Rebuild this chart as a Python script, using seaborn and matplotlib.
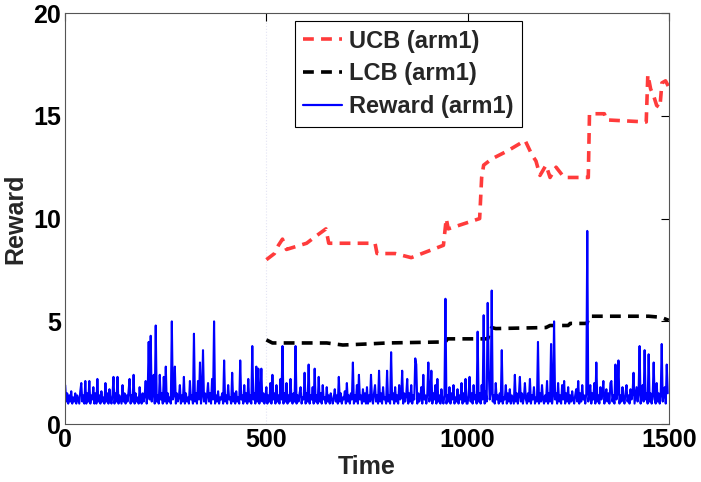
import numpy as np
import pandas as pd
import seaborn as sns
import matplotlib
matplotlib.use("Agg")
import matplotlib.pyplot as plt

# reward of arm1, one value every 2.5 time steps
reward_0_250 = [1.9, 1.1, 1.5, 1.0, 1.4, 1.1, 1.6, 1.0, 1.3, 1.1,
                1.5, 1.0, 1.4, 1.2, 1.0, 1.6, 2.0, 1.1, 1.4, 1.0,
                2.1, 1.0, 1.5, 1.1, 2.1, 1.0, 1.4, 1.2, 1.8, 1.0,
                1.5, 1.0, 2.2, 1.1, 1.4, 1.0, 1.6, 1.1, 1.3, 1.0,
                2.0, 1.1, 1.5, 1.0, 1.7, 1.2, 1.0, 1.4, 2.3, 1.0,
                1.5, 1.1, 2.3, 1.0, 1.4, 1.2, 1.0, 1.9, 1.1, 1.5,
                1.0, 1.4, 1.1, 1.6, 2.2, 1.0, 1.4, 1.1, 2.4, 1.0,
                1.5, 1.1, 1.3, 1.0, 1.8, 1.2, 1.0, 1.5, 1.1, 1.4,
                2.1, 1.0, 1.5, 4.0, 1.2, 4.3, 1.1, 1.6, 2.4, 1.0,
                4.8, 1.1, 1.4, 1.0, 2.4, 1.2, 1.5, 1.0, 2.3, 1.1]
reward_250_500 = [2.8, 1.0, 1.5, 1.1, 1.3, 1.0, 5.0, 1.2, 1.4, 2.8,
                  1.0, 1.5, 1.1, 1.3, 1.9, 1.0, 1.4, 1.1, 2.3, 1.0,
                  1.5, 1.1, 1.3, 1.0, 2.1, 1.2, 1.4, 1.0, 4.4, 1.1,
                  1.5, 1.0, 2.1, 1.2, 3.0, 1.0, 1.4, 3.6, 1.1, 1.5,
                  1.0, 1.4, 2.0, 1.1, 1.5, 1.0, 2.2, 1.2, 5.0, 1.0,
                  1.4, 1.1, 1.6, 1.0, 1.3, 1.2, 1.5, 1.0, 3.1, 1.1,
                  1.4, 1.0, 1.9, 1.2, 1.3, 1.0, 2.5, 1.1, 1.5, 1.0,
                  1.6, 1.1, 1.3, 1.0, 3.1, 1.2, 1.4, 1.0, 1.9, 1.1,
                  1.5, 1.0, 2.2, 1.1, 1.4, 1.0, 3.8, 1.2, 1.5, 1.0,
                  2.8, 1.1, 2.7, 1.0, 1.4, 2.7, 1.1, 1.5, 1.0, 1.3]
reward_500_750 = [1.8, 1.0, 1.4, 1.1, 2.0, 1.0, 2.4, 1.2, 1.5, 1.0,
                  1.9, 1.1, 1.4, 1.0, 2.2, 1.2, 3.8, 1.0, 1.5, 1.1,
                  2.0, 1.0, 1.4, 1.1, 2.2, 1.2, 1.0, 1.5, 1.1, 3.8,
                  1.0, 1.4, 1.1, 1.5, 1.8, 1.0, 1.3, 1.2, 2.5, 1.0,
                  1.5, 1.1, 2.9, 1.0, 1.4, 1.2, 1.8, 1.0, 2.7, 1.1,
                  1.4, 1.0, 2.3, 1.1, 1.5, 1.0, 1.9, 1.2, 1.3, 1.0,
                  1.8, 1.1, 1.4, 1.0, 1.5, 1.2, 1.0, 1.3, 1.7, 1.1,
                  1.4, 1.0, 2.3, 1.1, 1.5, 1.0, 1.3, 1.2, 1.6, 1.0,
                  2.0, 1.1, 1.4, 1.0, 1.5, 1.2, 3.0, 1.0, 1.4, 1.1,
                  1.9, 1.0, 2.4, 1.2, 1.4, 1.0, 1.7, 1.1, 1.5, 1.0]
reward_750_1000 = [1.8, 1.0, 1.4, 1.1, 2.4, 1.2, 1.0, 1.5, 1.9, 1.1,
                   1.4, 1.0, 2.6, 1.1, 1.5, 1.0, 1.8, 1.2, 1.3, 1.0,
                   2.6, 1.1, 1.4, 1.0, 3.5, 1.2, 1.5, 1.0, 1.8, 1.1,
                   1.4, 1.0, 1.9, 1.2, 1.3, 2.6, 1.0, 1.5, 1.1, 1.4,
                   2.2, 1.0, 1.5, 1.1, 1.9, 1.0, 1.4, 1.2, 3.2, 2.9,
                   1.0, 1.5, 1.1, 1.3, 1.8, 1.0, 2.4, 1.2, 1.4, 1.0,
                   1.5, 3.0, 1.1, 1.4, 2.6, 1.0, 1.5, 1.2, 1.9, 1.0,
                   2.2, 1.1, 1.4, 1.0, 1.7, 1.2, 1.0, 1.4, 6.1, 1.0,
                   1.4, 1.1, 1.8, 1.0, 1.5, 1.2, 1.9, 1.0, 1.3, 1.1,
                   1.7, 1.0, 1.4, 1.2, 2.0, 1.0, 1.5, 1.1, 2.2, 1.0]
reward_1000_1250 = [1.0, 1.4, 2.3, 1.1, 1.5, 1.0, 1.9, 1.2, 1.4, 1.0,
                    4.5, 1.1, 1.5, 1.0, 1.9, 1.2, 5.3, 1.0, 1.6, 1.1,
                    5.9, 2.7, 1.2, 1.5, 6.5, 1.1, 1.4, 1.0, 2.0, 1.2,
                    1.4, 1.0, 1.5, 1.1, 3.6, 1.0, 1.3, 1.2, 1.9, 1.0,
                    1.5, 1.1, 1.7, 1.0, 1.4, 1.2, 1.0, 2.4, 1.1, 1.5,
                    1.0, 1.4, 2.3, 1.1, 1.5, 1.0, 1.3, 2.0, 1.2, 1.0,
                    1.5, 1.1, 2.2, 1.0, 1.4, 1.2, 1.8, 1.0, 1.3, 1.1,
                    4.0, 1.0, 1.5, 1.1, 1.9, 1.2, 1.0, 1.4, 1.1, 2.1,
                    1.0, 1.5, 1.1, 3.9, 1.0, 1.4, 5.0, 1.2, 1.5, 1.0,
                    2.0, 1.1, 1.4, 1.0, 1.9, 1.2, 2.1, 1.0, 1.5, 1.1]
reward_1250_1500 = [1.8, 1.0, 1.4, 1.1, 1.6, 1.2, 1.0, 1.4, 1.7, 1.1,
                    2.1, 1.0, 1.5, 1.1, 1.9, 1.2, 1.4, 1.0, 1.5, 9.4,
                    1.1, 1.4, 1.9, 1.0, 1.5, 1.2, 2.0, 1.0, 3.0, 1.1,
                    1.4, 1.0, 1.8, 1.2, 1.5, 2.1, 1.0, 1.4, 1.7, 1.1,
                    1.5, 1.0, 2.0, 2.1, 1.1, 1.4, 1.0, 2.9, 1.2, 1.5,
                    3.1, 1.0, 1.4, 1.1, 1.8, 1.2, 1.0, 1.5, 1.9, 1.1,
                    1.4, 1.0, 1.7, 1.2, 1.5, 2.5, 1.0, 1.4, 1.8, 1.1,
                    1.5, 3.8, 1.0, 1.4, 1.9, 1.1, 3.6, 1.2, 1.5, 1.0,
                    3.4, 1.1, 1.5, 1.0, 1.4, 3.0, 1.2, 1.0, 2.0, 1.1,
                    1.5, 1.0, 1.4, 3.9, 1.1, 1.5, 1.8, 1.0, 2.9, 1.5]

# upper confidence bound (starts at t=500)
ucb_t = [500, 520, 530, 540, 550, 600, 620, 648, 655, 770, 775, 820, 860, 900,
         940, 947, 952, 1030, 1035, 1040, 1060, 1100, 1143, 1160, 1170, 1180,
         1195, 1205, 1220, 1240, 1300, 1303, 1340, 1345, 1444, 1448, 1455,
         1462, 1470, 1478, 1483, 1492, 1500]
ucb_v = [8.0, 8.3, 8.7, 9.0, 8.5, 8.8, 9.1, 9.5, 8.8, 8.8, 8.3, 8.3, 8.1, 8.4,
         8.7, 10.0, 9.5, 10.0, 12.0, 12.6, 12.9, 13.3, 13.8, 13.1, 12.8, 12.1,
         12.6, 12.0, 12.5, 12.0, 12.0, 15.1, 15.1, 14.8, 14.7, 17.0, 16.3,
         16.0, 15.5, 15.4, 16.6, 16.7, 16.4]

# lower confidence bound
lcb_t = [500, 515, 650, 690, 750, 800, 945, 950, 1050, 1060, 1070, 1195, 1205,
         1250, 1255, 1297, 1302, 1450, 1480, 1500]
lcb_v = [4.1, 3.95, 3.95, 3.85, 3.9, 3.95, 4.0, 4.15, 4.15, 4.7, 4.65, 4.7, 4.8,
         4.8, 4.9, 4.9, 5.25, 5.25, 5.2, 5.05]

reward = (reward_0_250 + reward_250_500 + reward_500_750 + reward_750_1000
          + reward_1000_1250 + reward_1250_1500)
assert len(reward) == 600
df_r = pd.DataFrame({"t": np.arange(len(reward)) * 2.5, "v": reward})
df_u = pd.DataFrame({"t": ucb_t, "v": ucb_v})
df_l = pd.DataFrame({"t": lcb_t, "v": lcb_v})

sns.set_style("white")
plt.rcParams["font.family"] = ["Liberation Sans", "DejaVu Sans"]
plt.rcParams["font.weight"] = "bold"

fig = plt.figure(figsize=(7.01, 4.82), dpi=100)
ax = fig.add_axes([0.093, 0.120, 0.861, 0.853])

ax.axvline(500, color="#e4e4f4", lw=0.8, ls=":", zorder=0)
sns.lineplot(data=df_u, x="t", y="v", ax=ax, color="#ff3b3b", lw=2.6,
             estimator=None, label="UCB (arm1)").lines[-1].set_dashes((3, 2))
sns.lineplot(data=df_l, x="t", y="v", ax=ax, color="black", lw=2.6,
             estimator=None, label="LCB (arm1)").lines[-1].set_dashes((3, 2))
sns.lineplot(data=df_r, x="t", y="v", ax=ax, color="#0000ff", lw=1.5,
             estimator=None, label="Reward (arm1)")

ax.set_xlim(0, 1500)
ax.set_ylim(0, 20)
ax.set_xticks([0, 500, 1000, 1500])
ax.set_yticks([0, 5, 10, 15, 20])
ax.set_xlabel("Time", fontsize=18, fontweight="bold", labelpad=2)
ax.set_ylabel("Reward", fontsize=18, fontweight="bold", labelpad=4)
ax.tick_params(direction="in", length=6, width=0.8, colors="black",
               labelsize=18, top=True, right=True, pad=3)
for lab in ax.get_xticklabels() + ax.get_yticklabels():
    lab.set_fontweight("bold")
for s in ax.spines.values():
    s.set_color("#555555")
    s.set_linewidth(0.8)

leg = ax.legend(loc="upper left", bbox_to_anchor=(0.381, 0.98), fontsize=17,
                frameon=True, fancybox=False, framealpha=1, edgecolor="black",
                handlelength=1.65, handletextpad=0.3, borderpad=0.35,
                labelspacing=0.42, borderaxespad=0)
leg.get_frame().set_linewidth(0.8)
for txt in leg.get_texts():
    txt.set_fontweight("bold")
for h in leg.get_lines():
    h.set_linewidth(2.6 if h.get_color() != "#0000ff" else 1.6)

fig.savefig("out.png", dpi=100)
